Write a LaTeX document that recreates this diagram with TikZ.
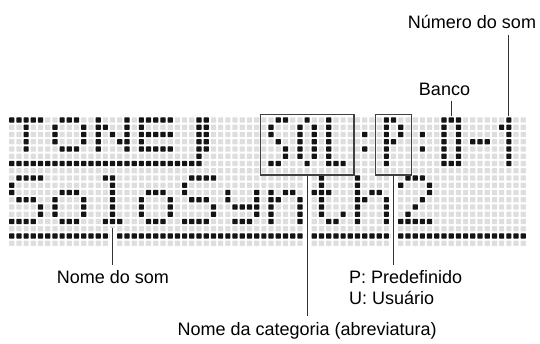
\documentclass[tikz,border=0pt]{standalone}
\usepackage{fontspec}
\setmainfont{Liberation Sans}
\tikzset{
  lcdoff/.style={fill=black!13, rounded corners=0.6pt},
  lcdon/.style={fill=black!92, rounded corners=0.6pt},
  lbl/.style={font=\fontsize{18}{21}\selectfont, inner sep=6pt, text=black},
  lead/.style={draw=black!80, line width=1pt},
  halo/.style={preaction={draw=white, line width=6pt}},
  frame/.style={draw=black!75, line width=1.5pt, inner sep=0, outer sep=0},
}
\newcommand\lcdrow[2]{\foreach \c in {#2}{\fill [lcdon] ({11.7+7.205*\c-2.6},{120+7.25*#1-2.6}) rectangle +(5.2,5.2);}}
\begin{document}
\begin{tikzpicture}[x=1pt,y=-1pt]
	\fill [white] (0,0) rectangle (540,343);
	\useasboundingbox (0,0) rectangle (540,343);
	\foreach \r in {0,...,17}
		\foreach \c in {0,...,71}
			\fill [lcdoff] ({11.7+7.205*\c-2.6},{120+7.25*\r-2.6}) rectangle +(5.2,5.2);
	
	\lcdrow{0}{0,1,2,3,4,7,8,9,12,16,18,19,20,21,22,26,27,37,38,41,44,52,53,60,61,62,69}
	\lcdrow{1}{2,6,10,12,13,16,18,26,27,36,40,42,44,52,54,60,62,68,69}
	\lcdrow{2}{2,6,10,12,14,16,18,19,20,21,22,26,27,36,40,42,44,49,52,54,57,60,62,69}
	\lcdrow{3}{2,6,10,12,15,16,18,26,27,37,40,42,44,52,53,60,62,64,65,66,69}
	\lcdrow{4}{2,7,8,9,12,16,18,19,20,21,22,26,27,38,40,42,44,49,52,57,60,62,69}
	\lcdrow{5}{26,38,40,42,44,52,60,62,69}
	\lcdrow{6}{0,...,26,36,37,41,44,45,46,52,60,61,62,69}
	
	\lcdrow{8}{1,2,3,4,13,14,25,26,27,28,43,48,55,56,57}
	\lcdrow{9}{0,14,24,43,48,54,58}
	\lcdrow{10}{0,7,8,9,14,19,20,21,24,30,34,36,38,39,42,43,44,48,50,51,58}
	\lcdrow{11}{1,2,3,6,10,14,18,22,25,26,27,30,34,36,37,40,43,48,49,52,57}
	\lcdrow{12}{4,6,10,14,18,22,28,31,32,33,34,36,40,43,48,52,56}
	\lcdrow{13}{4,6,10,14,18,22,28,34,36,40,43,46,48,52,55}
	\lcdrow{14}{0,1,2,3,7,8,9,13,14,15,19,20,21,24,25,26,27,31,32,33,36,40,44,45,48,52,54,55,56,57,58}
	\lcdrow{16}{0,...,71}
	
	\node [frame, minimum width=93.6pt, minimum height=60.5pt] at (307.1,144.75) (solbox) {};
	\node [frame, minimum width=36pt, minimum height=60.5pt] at (393.6,144.75) (pbox) {};
	
	\node [lbl, anchor=base] at (472,28.5) (numero) {Número do som};
	\node [lbl, anchor=base] at (444.5,95) (banco) {Banco};
	\node [lbl, anchor=base] at (113,283.8) (nome) {Nome do som};
	\node [lbl, anchor=base west] at (343,283.8) (pdef) {P: Predefinido};
	\node [lbl, anchor=base west] at (343,304) (udef) {U: Usuário};
	\node [lbl, anchor=base] at (307.1,335) (categ) {Nome da categoria (abreviatura)};
	
	\coordinate (numtop) at (508.8,116);
	\coordinate (bantop) at (451.2,116);
	\coordinate (nometop) at (112.6,228);
	\draw [lead] (numero.south -| numtop) -- (numtop);
	\draw [lead] (banco.south -| bantop) -- (bantop);
	\draw [lead, halo] (nometop) -- (nometop |- nome.north);
	\draw [lead, halo] (solbox.south) -- (categ.north);
	\draw [lead, halo] (pbox.south) -- (pbox.south |- pdef.north);
	\draw [frame] (solbox.south west) rectangle (solbox.north east);
	\draw [frame] (pbox.south west) rectangle (pbox.north east);
\end{tikzpicture}
\end{document}
